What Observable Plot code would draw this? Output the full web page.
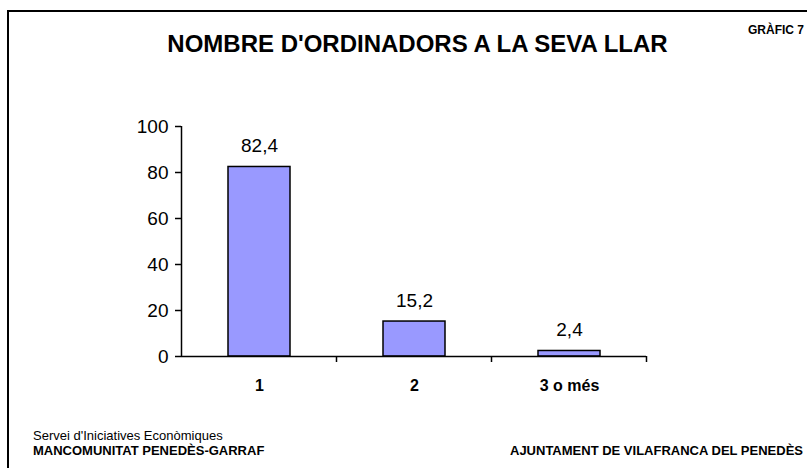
<!DOCTYPE html>
<html>
<head>
<meta charset="utf-8">
<script src="https://cdn.jsdelivr.net/npm/d3@7"></script>
<script src="https://cdn.jsdelivr.net/npm/@observablehq/plot@0.6"></script>
<style>
  html, body { margin: 0; padding: 0; background: #fff; }
  #wrap { position: relative; width: 807px; height: 468px; overflow: hidden; font-family: Arial, "Liberation Sans", sans-serif; color: #000; }
  #frame { position: absolute; left: 7px; top: 10px; width: 900px; height: 600px; border-left: 2px solid #000; border-top: 2px solid #000; }
  .t { position: absolute; white-space: nowrap; line-height: 1.15; }
  #title { left: 0; width: 835px; top: 30px; text-align: center; font-weight: bold; font-size: 24px; }
  #num { left: 748px; top: 24px; font-weight: bold; font-size: 12px; }
  #f1 { left: 33px; top: 429px; font-size: 13px; }
  #f2 { left: 33px; top: 444px; font-size: 13px; font-weight: bold; }
  #f3 { left: 510px; top: 444px; font-size: 13px; font-weight: bold; }
  #chart { position: absolute; left: 0; top: 0; }
</style>
</head>
<body>
<div id="wrap">
  <div id="frame"></div>
  <div id="chart"></div>
  <div class="t" id="title"></div>
  <div class="t" id="num"></div>
  <div class="t" id="f1"></div>
  <div class="t" id="f2"></div>
  <div class="t" id="f3"></div>
</div>
<script>
const titleText = "NOMBRE D'ORDINADORS A LA SEVA LLAR";
const chartNumber = "GRÀFIC 7";
const footerLeft1 = "Servei d'Iniciatives Econòmiques";
const footerLeft2 = "MANCOMUNITAT PENEDÈS-GARRAF";
const footerRight = "AJUNTAMENT DE VILAFRANCA DEL PENEDÈS";

const categories = ["1", "2", "3 o més"];
const values = [82.4, 15.2, 2.4];
const yTicks = [0, 20, 40, 60, 80, 100];

document.getElementById("title").textContent = titleText;
document.getElementById("num").textContent = chartNumber;
document.getElementById("f1").textContent = footerLeft1;
document.getElementById("f2").textContent = footerLeft2;
document.getElementById("f3").textContent = footerRight;

const data = categories.map((c, i) => ({cat: c, value: values[i]}));
const fmt = v => v.toFixed(1).replace(".", ",");

const plot = Plot.plot({
  width: 807,
  height: 468,
  marginLeft: 181,
  marginRight: 161,
  marginTop: 126,
  marginBottom: 112,
  style: {fontFamily: "Arial, 'Liberation Sans', sans-serif", background: "transparent", overflow: "visible"},
  x: {domain: categories, paddingInner: 0.6, paddingOuter: 0.3, label: null},
  y: {domain: [0, 100], label: null},
  marks: [
    Plot.barY(data, {x: "cat", y: "value", fill: "#9999ff", stroke: "#000", strokeWidth: 1.5}),
    Plot.text(data, {x: "cat", y: "value", text: d => fmt(d.value), dy: -21, fontSize: 19, fill: "#000"}),
    Plot.ruleY([0], {stroke: "#000", strokeWidth: 1.5}),
    Plot.axisY({ticks: yTicks, tickSize: 6, tickPadding: 7, fontSize: 19, tickFormat: d => String(d), stroke: "#000", strokeWidth: 1.5}),
    Plot.axisX({tickSize: 0, tickPadding: 23, fontSize: 16, fontWeight: "bold"})
  ]
});
document.getElementById("chart").appendChild(plot);

// y-axis line and category boundary ticks, derived from the plot's scales
const sx = plot.scale("x"), sy = plot.scale("y");
const svg = d3.select(plot);
const y0 = sy.apply(0), y100 = sy.apply(100);
const gap = sx.step - sx.bandwidth;
const xStart = sx.apply(categories[0]) - gap / 2;
svg.append("line").attr("x1", xStart).attr("x2", xStart).attr("y1", y100).attr("y2", y0)
  .attr("stroke", "#000").attr("stroke-width", 1.5);
categories.forEach(c => {
  const xb = sx.apply(c) + sx.bandwidth + gap / 2;
  svg.append("line").attr("x1", xb).attr("x2", xb).attr("y1", y0).attr("y2", y0 + 6)
    .attr("stroke", "#000").attr("stroke-width", 1.5);
});
</script>
</body>
</html>
